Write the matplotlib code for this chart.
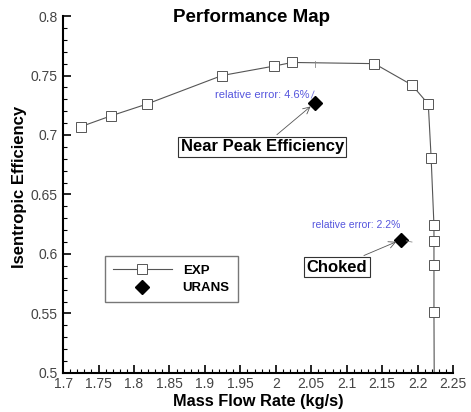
import matplotlib.pyplot as plt
from matplotlib.ticker import MultipleLocator

plt.rcParams['font.family'] = ['Liberation Sans', 'DejaVu Sans']

# experimental performance map
exp_mass = [1.725, 1.767, 1.818, 1.924, 1.998, 2.023, 2.139, 2.192, 2.215,
            2.219, 2.223, 2.223, 2.223, 2.223, 2.224]
exp_eff = [0.707, 0.716, 0.726, 0.750, 0.758, 0.761, 0.760, 0.742, 0.726,
           0.681, 0.624, 0.611, 0.591, 0.551, 0.40]

# URANS operating points
urans_mass = [2.055, 2.177]
urans_eff = [0.727, 0.612]
urans_labels = ['Near Peak Efficiency', 'Choked']
rel_errors = ['relative error: 4.6%', 'relative error: 2.2%']

fig = plt.figure(figsize=(4.71, 4.12), dpi=100)
ax = fig.add_axes([0.134, 0.095, 0.828, 0.866])

ax.plot(exp_mass, exp_eff, color='#555555', lw=0.8, marker='s', ms=7.5,
        mfc='white', mec='#555555', mew=0.7, label='EXP')
ax.plot(urans_mass, urans_eff, ls='none', marker='D', ms=7, color='black',
        label='URANS')

# boxed labels with arrows to the URANS points
box = dict(boxstyle='square,pad=0.15', fc='white', ec='#333333', lw=0.8)
arrow = dict(arrowstyle='->', color='#555555', lw=0.6, shrinkB=4)
ax.annotate(urans_labels[0], xy=(urans_mass[0], urans_eff[0]), xytext=(1.981, 0.690),
            fontsize=12, fontweight='bold', ha='center', va='center',
            bbox=box, arrowprops=arrow)
ax.annotate(urans_labels[1], xy=(urans_mass[1], urans_eff[1]), xytext=(2.086, 0.589),
            fontsize=12, fontweight='bold', ha='center', va='center',
            bbox=box, arrowprops=arrow)

# relative error notes
ax.text(2.048, 0.734, rel_errors[0], fontsize=8, color='#5555dd',
        ha='right', va='center')
ax.plot([2.050, 2.054], [0.731, 0.737], color='#7777dd', lw=0.6)
ax.plot([2.055, 2.055], [0.757, 0.762], color='#888888', lw=0.6)
ax.text(2.176, 0.624, rel_errors[1], fontsize=7.5, color='#5555dd',
        ha='right', va='center')
ax.plot([2.184, 2.192], [0.611, 0.610], color='#888888', lw=0.6)

ax.set_xlim(1.7, 2.25)
ax.set_ylim(0.5, 0.8)
ax.xaxis.set_major_locator(MultipleLocator(0.05))
ax.xaxis.set_minor_locator(MultipleLocator(0.01))
ax.yaxis.set_major_locator(MultipleLocator(0.05))
ax.yaxis.set_minor_locator(MultipleLocator(0.01))
ax.set_xticklabels([f'{v:g}' for v in ax.get_xticks()])
ax.set_yticklabels([f'{v:g}' for v in ax.get_yticks()])
ax.tick_params(which='both', direction='in', top=False, right=False,
               labelsize=10, labelcolor='#444444', width=1.2)
ax.tick_params(which='major', length=6)
ax.tick_params(which='minor', length=3, width=0.8)
ax.tick_params(axis='x', pad=3)
ax.tick_params(axis='y', pad=4)
for side in ['top', 'right']:
    ax.spines[side].set_visible(False)
for side in ['left', 'bottom']:
    ax.spines[side].set_linewidth(1.5)

ax.text(0.482, 0.995, 'Performance Map', transform=ax.transAxes, fontsize=13.5,
        fontweight='bold', ha='center', va='center')
ax.set_xlabel('Mass Flow Rate (kg/s)', fontsize=11.8, fontweight='bold', labelpad=2)
ax.set_ylabel('Isentropic Efficiency', fontsize=12, fontweight='bold', labelpad=1)
ax.yaxis.set_label_coords(-0.092, 0.52)

leg = ax.legend(loc='lower left', bbox_to_anchor=(0.09, 0.18), fontsize=9.5,
                frameon=True, fancybox=False, edgecolor='#555555',
                handlelength=4.5, borderpad=0.6, labelspacing=0.4)
for t in leg.get_texts():
    t.set_fontweight('bold')

fig.savefig('out.png', dpi=100)
